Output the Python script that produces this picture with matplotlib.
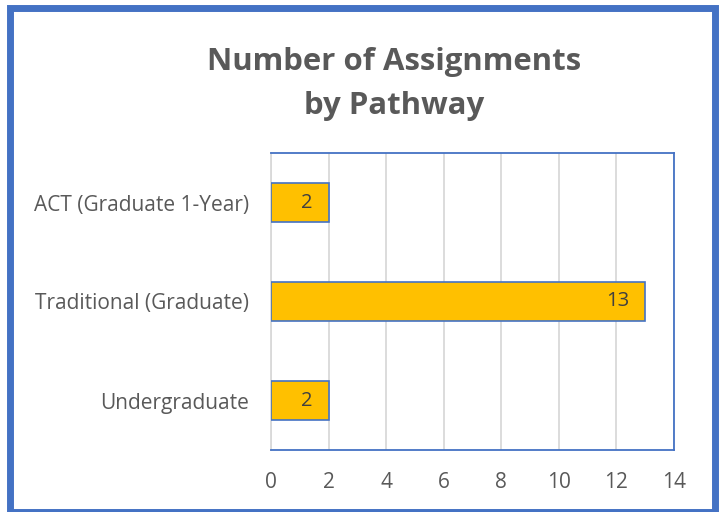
import matplotlib
matplotlib.use("Agg")
import matplotlib.pyplot as plt
from matplotlib.patches import Rectangle

categories = ["Undergraduate", "Traditional (Graduate)", "ACT (Graduate 1-Year)"]
values = [2, 13, 2]
xticks = [0, 2, 4, 6, 8, 10, 12, 14]

plt.rcParams['font.family'] = ['Open Sans', 'DejaVu Sans']

fig = plt.figure(figsize=(7.19, 5.12), dpi=100)
ax = fig.add_axes([271/719, 1-450/512, (674-271)/719, (450-153)/512])

y = list(range(len(categories)))
bars = ax.barh(y, values, height=0.4, color="#FFC000", edgecolor="#4472C4", linewidth=1.2, zorder=3)
for yi, v in zip(y, values):
    ax.text(v - 0.55, yi, str(v), ha="right", va="center", fontsize=14.5, color="#404040", zorder=4)

ax.set_xlim(0, 14)
ax.set_ylim(-0.5, 2.5)
ax.set_xticks(xticks)
ax.set_xticklabels([str(t) for t in xticks])
ax.set_yticks(y)
ax.set_yticklabels(categories)
ax.tick_params(axis="both", length=0, labelsize=15, labelcolor="#595959")
ax.tick_params(axis="x", pad=16)
ax.tick_params(axis="y", pad=16)
ax.grid(axis="x", color="#D9D9D9", linewidth=1.3, zorder=0)
for s in ["top", "right", "bottom"]:
    ax.spines[s].set_color("#4472C4")
    ax.spines[s].set_linewidth(1.3)
ax.spines["left"].set_color("#D9D9D9")
ax.spines["left"].set_linewidth(1.3)

fig.text(394/719, 1-84/512, "Number of Assignments\nby Pathway", ha="center", va="center",
         fontsize=22.4, fontweight="bold", color="#595959", linespacing=1.6)

fig.patches.append(Rectangle((10/719, 0.5/512), 705/719, 504/512, transform=fig.transFigure,
                             fill=False, edgecolor="#4472C4", linewidth=5))

fig.savefig("out.png", dpi=100)
